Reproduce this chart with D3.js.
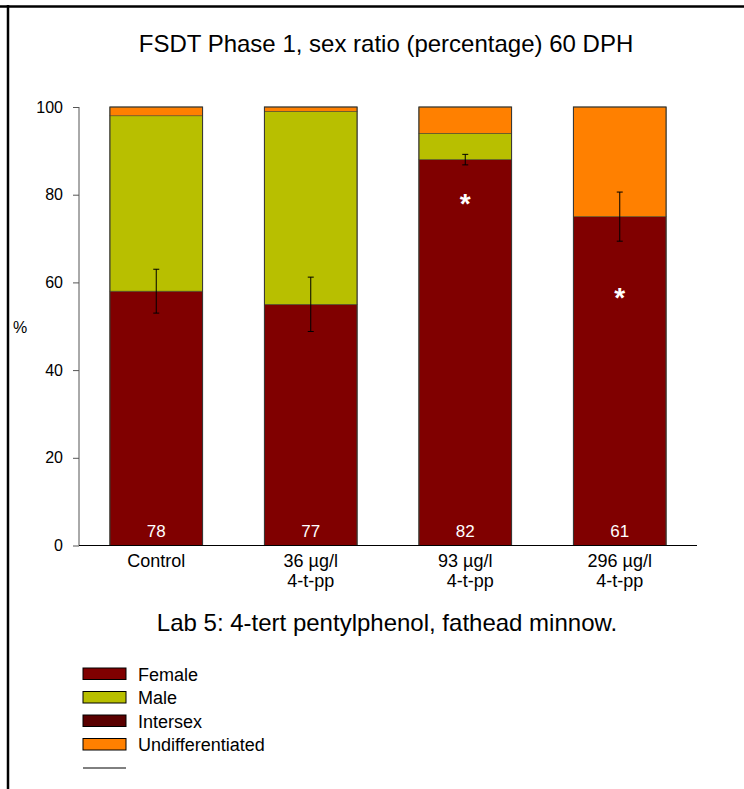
<!DOCTYPE html>
<html>
<head>
<meta charset="utf-8">
<script src="https://cdn.jsdelivr.net/npm/d3@7"></script>
<style>
  body { margin: 0; background: #fff; }
  svg { font-family: "Liberation Sans", Arial, sans-serif; }
</style>
</head>
<body>
<script>
const categories = ["Control", "36 µg/l", "93 µg/l", "296 µg/l"];
const subLabels = ["", "4-t-pp", "4-t-pp", "4-t-pp"];
const female = [58, 55, 88, 75];
const male = [40, 44, 6, 0];
const intersex = [0, 0, 0, 0];
const undiff = [2, 1, 6, 25];
const femaleErr = [5, 6.2, 1.2, 5.6];
const nFish = [78, 77, 82, 61];
const asteriskAt = [null, null, 79, 57.5];
const yTicks = [0, 20, 40, 60, 80, 100];

const seriesNames = ["Female", "Male", "Intersex", "Undifferentiated"];
const seriesColors = ["#800000", "#b8bf00", "#5a0000", "#ff8000"];

const width = 744, height = 789;

const rows = categories.map((c, i) => ({
  cat: c, Female: female[i], Male: male[i], Intersex: intersex[i], Undifferentiated: undiff[i]
}));

const x = d3.scaleBand()
  .domain(categories)
  .range([79, 697])
  .paddingInner(0.4)
  .paddingOuter(0.2);

const y = d3.scaleLinear()
  .domain([0, 100])
  .range([545.5, 107]);

const color = d3.scaleOrdinal().domain(seriesNames).range(seriesColors);

const svg = d3.select("body").append("svg")
  .attr("width", width)
  .attr("height", height);

// frame (top + left only)
svg.append("line").attr("x1", 0).attr("x2", width).attr("y1", 6.5).attr("y2", 6.5)
  .attr("stroke", "#000").attr("stroke-width", 2.5);
svg.append("line").attr("x1", 8).attr("x2", 8).attr("y1", 5).attr("y2", height)
  .attr("stroke", "#000").attr("stroke-width", 2.5);

// title
svg.append("text")
  .attr("x", 386).attr("y", 52)
  .attr("text-anchor", "middle")
  .attr("font-size", 24)
  .text("FSDT Phase 1, sex ratio (percentage) 60 DPH");

// stack
const series = d3.stack().keys(seriesNames)(rows);

const g = svg.append("g");
series.forEach(serie => {
  g.append("g")
    .attr("fill", color(serie.key))
    .selectAll("rect")
    .data(serie.filter(d => d[1] > d[0]))
    .join("rect")
      .attr("x", d => x(d.data.cat))
      .attr("y", d => y(d[1]))
      .attr("width", x.bandwidth())
      .attr("height", d => y(d[0]) - y(d[1]))
      .attr("stroke", "#4a4a2a")
      .attr("stroke-width", 0.6);
});

// bar outlines
g.append("g").selectAll("rect")
  .data(categories)
  .join("rect")
    .attr("x", d => x(d))
    .attr("y", y(100))
    .attr("width", x.bandwidth())
    .attr("height", y(0) - y(100))
    .attr("fill", "none")
    .attr("stroke", "#333")
    .attr("stroke-width", 1);

// error bars (female)
const eb = g.append("g").attr("stroke", "#000").attr("stroke-width", 1);
categories.forEach((c, i) => {
  const cx = x(c) + x.bandwidth() / 2;
  const top = y(female[i] + femaleErr[i]), bot = y(female[i] - femaleErr[i]);
  eb.append("line").attr("x1", cx).attr("x2", cx).attr("y1", top).attr("y2", bot);
  eb.append("line").attr("x1", cx - 3).attr("x2", cx + 3).attr("y1", top).attr("y2", top);
  eb.append("line").attr("x1", cx - 3).attr("x2", cx + 3).attr("y1", bot).attr("y2", bot);
});

// n labels
g.append("g").selectAll("text")
  .data(categories)
  .join("text")
    .attr("x", d => x(d) + x.bandwidth() / 2)
    .attr("y", 537)
    .attr("text-anchor", "middle")
    .attr("fill", "#fff")
    .attr("font-size", 17)
    .text((d, i) => nFish[i]);

// asterisks
g.append("g").selectAll("text")
  .data(categories.filter((d, i) => asteriskAt[i] != null))
  .join("text")
    .attr("x", d => x(d) + x.bandwidth() / 2)
    .attr("y", d => y(asteriskAt[categories.indexOf(d)]) + 14)
    .attr("text-anchor", "middle")
    .attr("fill", "#fff")
    .attr("font-size", 28)
    .attr("font-weight", "bold")
    .text("*");

// y axis
const yAxis = svg.append("g")
  .attr("transform", `translate(79,0)`)
  .call(d3.axisLeft(y).tickValues(yTicks).tickSize(6).tickPadding(10));
yAxis.select(".domain").attr("stroke", "#555").attr("d", `M0,${y(100)}V${y(0)}`);
yAxis.selectAll(".tick line").attr("stroke", "#555");
yAxis.selectAll("text").attr("font-size", 16).attr("font-family", "Liberation Sans, Arial, sans-serif").attr("fill", "#000");

svg.append("text")
  .attr("x", 20).attr("y", 333)
  .attr("text-anchor", "middle")
  .attr("font-size", 16)
  .text("%");

// x axis
svg.append("line")
  .attr("x1", 79).attr("x2", 697)
  .attr("y1", y(0)).attr("y2", y(0))
  .attr("stroke", "#000").attr("stroke-width", 1.2);

const xl = svg.append("g").attr("font-size", 18).attr("text-anchor", "middle");
categories.forEach((c, i) => {
  const cx = x(c) + x.bandwidth() / 2;
  xl.append("text").attr("x", cx).attr("y", 566.5).text(c);
  xl.append("text").attr("x", cx + (i === 2 ? 5 : 0)).attr("y", 586.5).text(subLabels[i]);
});

// caption
svg.append("text")
  .attr("x", 387).attr("y", 631)
  .attr("text-anchor", "middle")
  .attr("font-size", 24)
  .text("Lab 5: 4-tert pentylphenol, fathead minnow.");

// legend
const legend = svg.append("g").attr("transform", "translate(83,668)");
seriesNames.forEach((name, i) => {
  const row = legend.append("g").attr("transform", `translate(0,${i * 23.5})`);
  row.append("rect")
    .attr("width", 43).attr("height", 11.5)
    .attr("fill", color(name))
    .attr("stroke", "#000").attr("stroke-width", 1);
  row.append("text")
    .attr("x", 55).attr("y", 12.5)
    .attr("font-size", 18)
    .text(name);
});
legend.append("line")
  .attr("x1", 0).attr("x2", 43)
  .attr("y1", 4 * 23.5 + 6).attr("y2", 4 * 23.5 + 6)
  .attr("stroke", "#000").attr("stroke-width", 1);
</script>
</body>
</html>
